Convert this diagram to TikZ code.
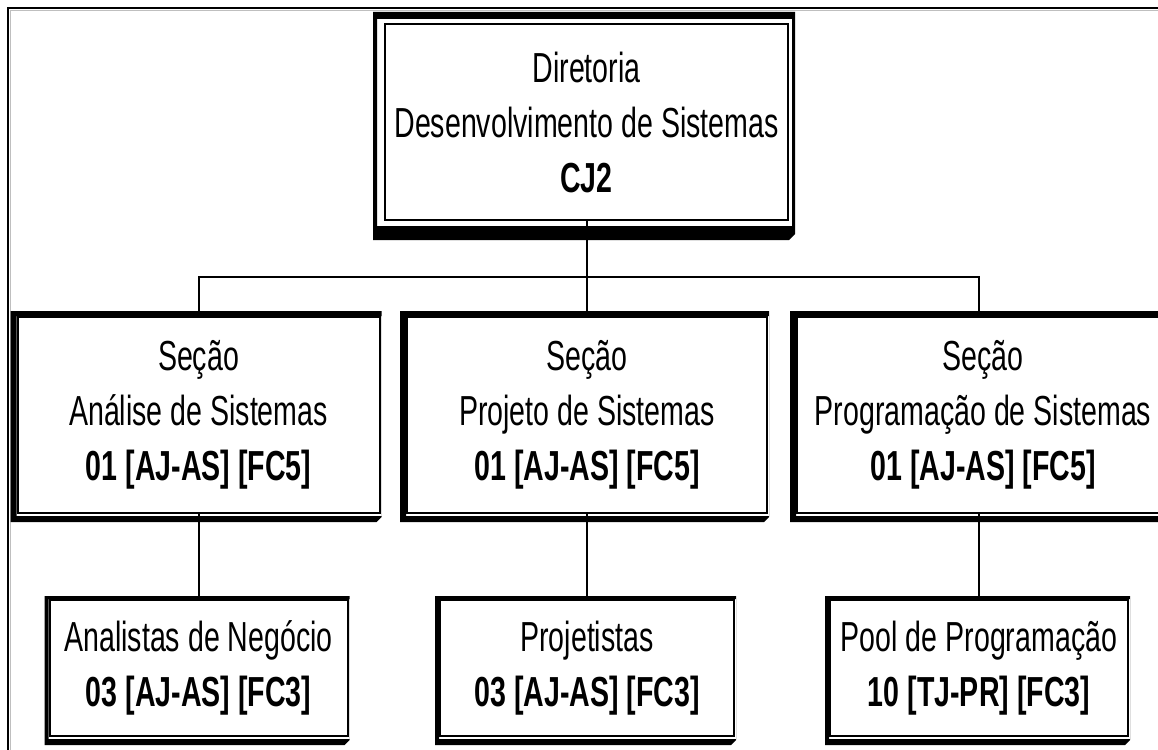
\documentclass[tikz,border=0pt]{standalone}
\usepackage{fontspec}
\setmainfont[FakeStretch=0.68]{Liberation Sans}
\usetikzlibrary{calc}
\newcommand\secframe[3]{%
  \fill[even odd rule]
    ([shift={(-#2,-#3)}]#1.north west) -- ([shift={(1,-#3)}]#1.north east) --
    ([shift={(1,3)}]#1.south east) -- ([shift={(-4,8)}]#1.south east) --
    ([shift={(-#2,8)}]#1.south west) -- cycle
    (#1.north west) rectangle ([shift={(1,2)}]#1.south east);
}
\begin{document}
\begin{tikzpicture}[x=1pt,y=-1pt,
  box/.style={draw, line width=2pt, fill=white, inner sep=0pt, align=center,
    font=\fontsize{42}{55}\selectfont},
  secbox/.style={box, minimum width=362pt, minimum height=196pt},
  botbox/.style={box, minimum width=298pt, minimum height=136pt},
  conn/.style={line width=2pt},
]
\useasboundingbox (0,0) rectangle (1158,749);
\fill[white] (0,0) rectangle (1158,749);
\draw[line width=2.5pt] (8,770) -- (8,8) -- (1180,8);
\draw[gray!50, line width=1pt] (10.5,770) -- (10.5,10.5) -- (1180,10.5);

\node[box, minimum width=403pt, minimum height=196pt] (dir) at (586.5,122)
  {Diretoria\\Desenvolvimento de Sistemas\\\textbf{CJ2}};

\node[secbox] (secA) at (198.5,415) {Seção\\Análise de Sistemas\\\textbf{01 [AJ-AS] [FC5]}};
\node[secbox, minimum width=360pt] (secB) at (587,415) {Seção\\Projeto de Sistemas\\\textbf{01 [AJ-AS] [FC5]}};
\node[secbox, minimum width=372pt] (secC) at (983,415) {Seção\\Programação de Sistemas\\\textbf{01 [AJ-AS] [FC5]}};

\node[botbox] (botA) at (198.5,668) {Analistas de Negócio\\\textbf{03 [AJ-AS] [FC3]}};
\node[botbox, minimum width=294pt] (botB) at (587,668) {Projetistas\\\textbf{03 [AJ-AS] [FC3]}};
\node[botbox] (botC) at (979,668) {Pool de Programação\\\textbf{10 [TJ-PR] [FC3]}};

\coordinate (bus) at (586.5,276.5);
\draw[conn] (dir.south) -- (dir.south |- bus);
\draw[conn] (secA.north) |- (bus) -| (botC.north |- secC.north);
\draw[conn] (secB.north) -- (secB.north |- bus);
\draw[conn] (secA.south) -- (botA.north);
\draw[conn] (secB.south) -- (botB.north);
\draw[conn] (botC.north |- secC.south) -- (botC.north);

\fill[even odd rule]
  ([shift={(-11,-11)}]dir.north west) -- ([shift={(6,-11)}]dir.north east) --
  ([shift={(6,13)}]dir.south east) -- ([shift={(0,19)}]dir.south east) --
  ([shift={(-11,19)}]dir.south west) -- cycle
  ([shift={(-7,-4)}]dir.north west) rectangle ([shift={(3,5)}]dir.south east);

\secframe{secA}{6}{5}
\secframe{secB}{6}{5}
\secframe{secC}{6}{5}
\secframe{botA}{4}{3}
\secframe{botB}{4}{3}
\secframe{botC}{4}{3}
\end{tikzpicture}
\end{document}
